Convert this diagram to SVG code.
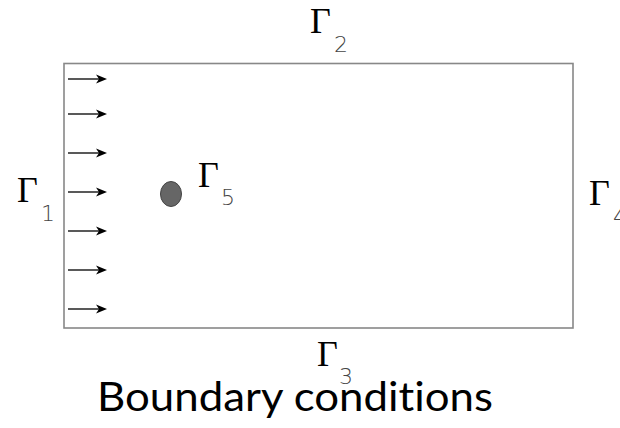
<svg xmlns="http://www.w3.org/2000/svg" width="620" height="428" viewBox="0 0 620 428">
<style>
.g{font-family:"Liberation Serif","Times New Roman",serif;font-size:36px;fill:#000}
.s{font-family:"DejaVu Sans",sans-serif;font-weight:200;font-size:22px;fill:#444}
.ln{stroke:#222;stroke-width:1.3;fill:none}
.hd{fill:#000}
</style>
<defs>
<g id="arr">
<line class="ln" x1="0" y1="0" x2="33" y2="0"/>
<path class="hd" d="M28,-4.5 L39,0 L28,4.5 L31,0 Z"/>
</g>
</defs>
<rect width="620" height="428" fill="#fff"/>
<g id="domain">
<rect x="64" y="63.5" width="509" height="264.5" fill="none" stroke="#888" stroke-width="1.6"/>
</g>
<g id="inflow">
<use href="#arr" x="68" y="79"/>
<use href="#arr" x="68" y="114"/>
<use href="#arr" x="68" y="153"/>
<use href="#arr" x="68" y="192"/>
<use href="#arr" x="68" y="231"/>
<use href="#arr" x="68" y="270"/>
<use href="#arr" x="68" y="309"/>
</g>
<g id="obstacle">
<ellipse cx="171" cy="194" rx="10.5" ry="12.5" fill="#666" stroke="#444" stroke-width="1"/>
</g>
<g id="labels">
<text class="g" x="17" y="202">Γ</text><text class="s" x="41" y="221">1</text>
<text class="g" x="310" y="33">Γ</text><text class="s" x="334" y="52">2</text>
<text class="g" x="317" y="366">Γ</text><text class="s" x="339" y="384">3</text>
<text class="g" x="589" y="205">Γ</text><text class="s" x="613" y="224">4</text>
<text class="g" x="198" y="187">Γ</text><text class="s" x="221" y="205">5</text>
</g>
<text x="97" y="411" font-family="Lato,'Open Sans','Liberation Sans',sans-serif" font-size="40" textLength="396" lengthAdjust="spacingAndGlyphs" style="font-variant-ligatures:none;font-feature-settings:'liga' 0" fill="#000">Boundary conditions</text>
</svg>
